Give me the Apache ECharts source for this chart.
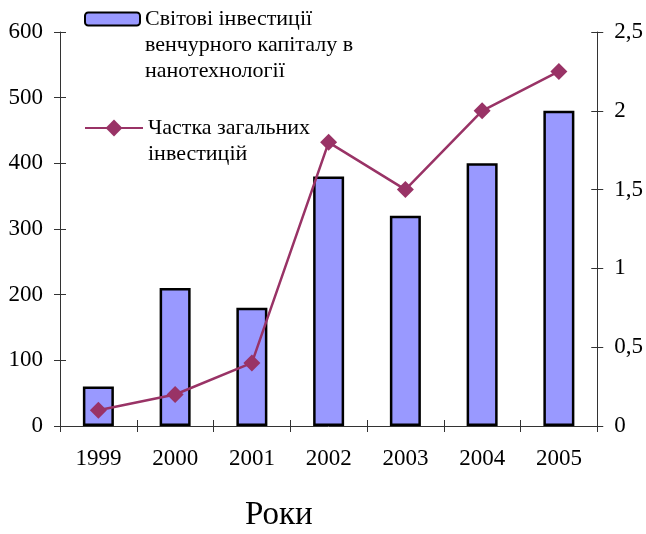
<!DOCTYPE html>
<html>
<head>
<meta charset="utf-8">
<title>Венчурні інвестиції</title>
<script src="https://cdn.jsdelivr.net/npm/echarts@6/dist/echarts.min.js"></script>
<style>
  html, body { margin: 0; padding: 0; background: #fff; }
  #chart { width: 646px; height: 534px; }
</style>
</head>
<body>
<div id="chart"></div>
<script>
// дані з рисунка
var years = ['1999', '2000', '2001', '2002', '2003', '2004', '2005'];
var investments = [60, 210, 180, 380, 320, 400, 480];
var share = [0.1, 0.2, 0.4, 1.8, 1.5, 2.0, 2.25];
var barName = 'Світові інвестиції\nвенчурного капіталу в\nнанотехнології';
var lineName = 'Частка загальних\nінвестицій';

var font = 'Liberation Serif, Times New Roman, serif';
var axisColor = '#333';

var chart = echarts.init(document.getElementById('chart'));

// хрестоподібні риски: одна вісь з рисками назовні, копія - з рисками всередину
function tickAxis(inside) {
  return {
    show: true,
    inside: inside,
    length: 6,
    lineStyle: {color: axisColor, width: 1}
  };
}

// порожні рядки зверху, щоб значок легенди стояв навпроти першого рядка
function legendText(name) {
  var extra = name.split('\n').length - 1;
  return new Array(extra + 1).join('\n') + name;
}

chart.setOption({
  animation: false,
  grid: {left: 60, right: 48, top: 32, bottom: 108},
  title: {
    text: 'Роки',
    left: 240,
    top: 494,
    textStyle: {fontFamily: font, fontSize: 33, fontWeight: 'normal', color: '#000'}
  },
  legend: [{
    data: [barName],
    formatter: legendText,
    left: 84,
    top: -46,
    padding: 0,
    itemWidth: 55,
    itemHeight: 13,
    textStyle: {fontFamily: font, fontSize: 22, lineHeight: 26, color: '#000'}
  }, {
    data: [lineName],
    formatter: legendText,
    left: 84,
    top: 89,
    padding: 0,
    itemWidth: 58,
    itemHeight: 21,
    textStyle: {fontFamily: font, fontSize: 22, lineHeight: 26, color: '#000'}
  }],
  xAxis: [{
    type: 'category',
    data: years,
    position: 'bottom',
    axisLine: {lineStyle: {color: axisColor, width: 1}},
    axisTick: tickAxis(false),
    axisLabel: {fontFamily: font, fontSize: 23, color: '#000', margin: 21}
  }, {
    type: 'category',
    data: years,
    position: 'bottom',
    axisLine: {show: false},
    axisTick: tickAxis(true),
    axisLabel: {show: false}
  }],
  yAxis: [{
    type: 'value',
    position: 'left',
    min: 0,
    max: 600,
    interval: 100,
    axisLine: {show: true, lineStyle: {color: axisColor, width: 1}},
    axisTick: tickAxis(false),
    splitLine: {show: false},
    axisLabel: {fontFamily: font, fontSize: 23, color: '#000', margin: 17}
  }, {
    type: 'value',
    position: 'right',
    min: 0,
    max: 2.5,
    interval: 0.5,
    axisLine: {show: true, lineStyle: {color: axisColor, width: 1}},
    axisTick: tickAxis(false),
    splitLine: {show: false},
    axisLabel: {
      fontFamily: font, fontSize: 23, color: '#000', margin: 17,
      formatter: function (v) { return String(v).replace('.', ','); }
    }
  }, {
    type: 'value',
    position: 'left',
    min: 0,
    max: 600,
    interval: 100,
    axisLine: {show: false},
    axisTick: tickAxis(true),
    splitLine: {show: false},
    axisLabel: {show: false}
  }, {
    type: 'value',
    position: 'right',
    min: 0,
    max: 2.5,
    interval: 0.5,
    axisLine: {show: false},
    axisTick: tickAxis(true),
    splitLine: {show: false},
    axisLabel: {show: false}
  }],
  series: [{
    name: barName,
    type: 'bar',
    data: investments,
    xAxisIndex: 0,
    yAxisIndex: 0,
    barWidth: 31,
    itemStyle: {color: '#9999ff', borderColor: '#000', borderWidth: 2.5}
  }, {
    name: lineName,
    type: 'line',
    data: share,
    xAxisIndex: 0,
    yAxisIndex: 1,
    symbol: 'diamond',
    symbolSize: 17,
    lineStyle: {color: '#993366', width: 2.5},
    itemStyle: {color: '#993366'}
  }]
});
</script>
</body>
</html>
